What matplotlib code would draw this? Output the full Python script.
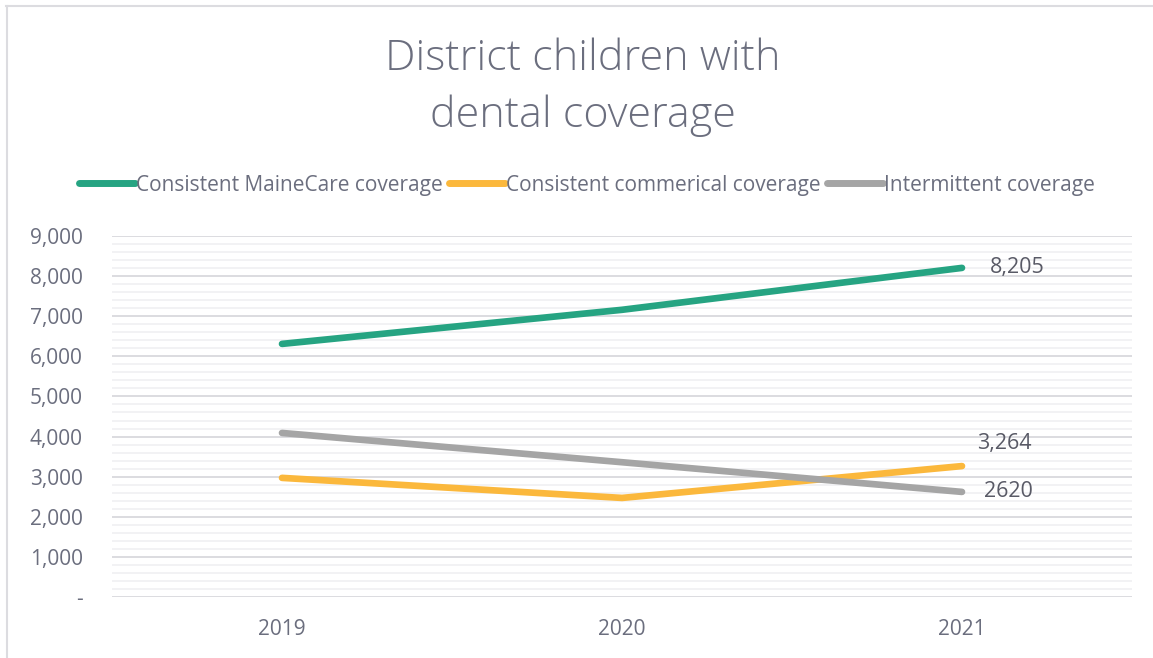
import matplotlib
matplotlib.use("Agg")
import matplotlib.pyplot as plt
from matplotlib.ticker import MultipleLocator, FuncFormatter
from matplotlib.lines import Line2D

years = ["2019", "2020", "2021"]
mainecare = [6310, 7160, 8205]
commercial = [2970, 2470, 3264]
intermittent = [4090, 3360, 2620]
series_names = ["Consistent MaineCare coverage", "Consistent commerical coverage", "Intermittent coverage"]
end_labels = ["8,205", "3,264", "2620"]

colors = ["#26a482", "#fbb83c", "#a5a5a5"]
txt = "#6b6e7e"
plt.rcParams['font.family'] = ['Open Sans', 'DejaVu Sans']

fig = plt.figure(figsize=(11.53, 6.58), dpi=100)
ax = fig.add_axes([112/1153, 1-597/658, 1020/1153, 361/658])

x = range(len(years))
for vals, c, name in zip([mainecare, commercial, intermittent], colors, series_names):
    ax.plot(x, vals, color=c, lw=4.8, solid_capstyle="round", label=name, zorder=3)

# data labels at 2021
ax.annotate(end_labels[0], (2, mainecare[2]), xytext=(20, 0), textcoords="offset points",
            va="center", ha="left", fontsize=15.5, color="#595a66")
ax.annotate(end_labels[1], (2, commercial[2]), xytext=(11, 16), textcoords="offset points",
            va="center", ha="left", fontsize=15.5, color="#595a66")
ax.annotate(end_labels[2], (2, intermittent[2]), xytext=(16, 0), textcoords="offset points",
            va="center", ha="left", fontsize=15.5, color="#595a66")

ax.set_xlim(-0.5, 2.5)
ax.set_ylim(0, 9000)
ax.set_xticks(list(x))
ax.set_xticklabels(years)
ax.yaxis.set_major_locator(MultipleLocator(1000))
ax.yaxis.set_minor_locator(MultipleLocator(200))
ax.yaxis.set_major_formatter(FuncFormatter(lambda v, p: "-" if v == 0 else f"{int(v):,}"))
ax.grid(axis="y", which="major", color="#d9d9dd", lw=1.3, zorder=0)
ax.grid(axis="y", which="minor", color="#f1f1f3", lw=1.3, zorder=0)
ax.tick_params(axis="both", which="both", length=0, labelsize=15, labelcolor=txt)
ax.tick_params(axis="y", pad=21)
ax.tick_params(axis="x", pad=16)
for s in ax.spines.values():
    s.set_visible(False)
ax.set_axisbelow(True)

fig.text(583/1153, 1-87/658, "District children with\ndental coverage", ha="center", va="center",
         fontsize=31, color=txt, fontweight="light", linespacing=1.45)

handles = [Line2D([0], [0], color=c, lw=5, solid_capstyle="round") for c in colors]
fig.legend(handles, series_names, loc="center", bbox_to_anchor=(587/1153, 1-185/658), ncol=3,
           frameon=False, fontsize=15, labelcolor=txt, handlelength=2.7, handletextpad=0.05,
           columnspacing=0.3)

# chart border (top and left visible)
fig.add_artist(Line2D([6/1153, 1], [1-6/658, 1-6/658], color="#dcdce0", lw=1.5))
fig.add_artist(Line2D([7/1153, 7/1153], [0, 1-6/658], color="#dcdce0", lw=1.5))

fig.savefig("out.png", dpi=100, facecolor="white")
